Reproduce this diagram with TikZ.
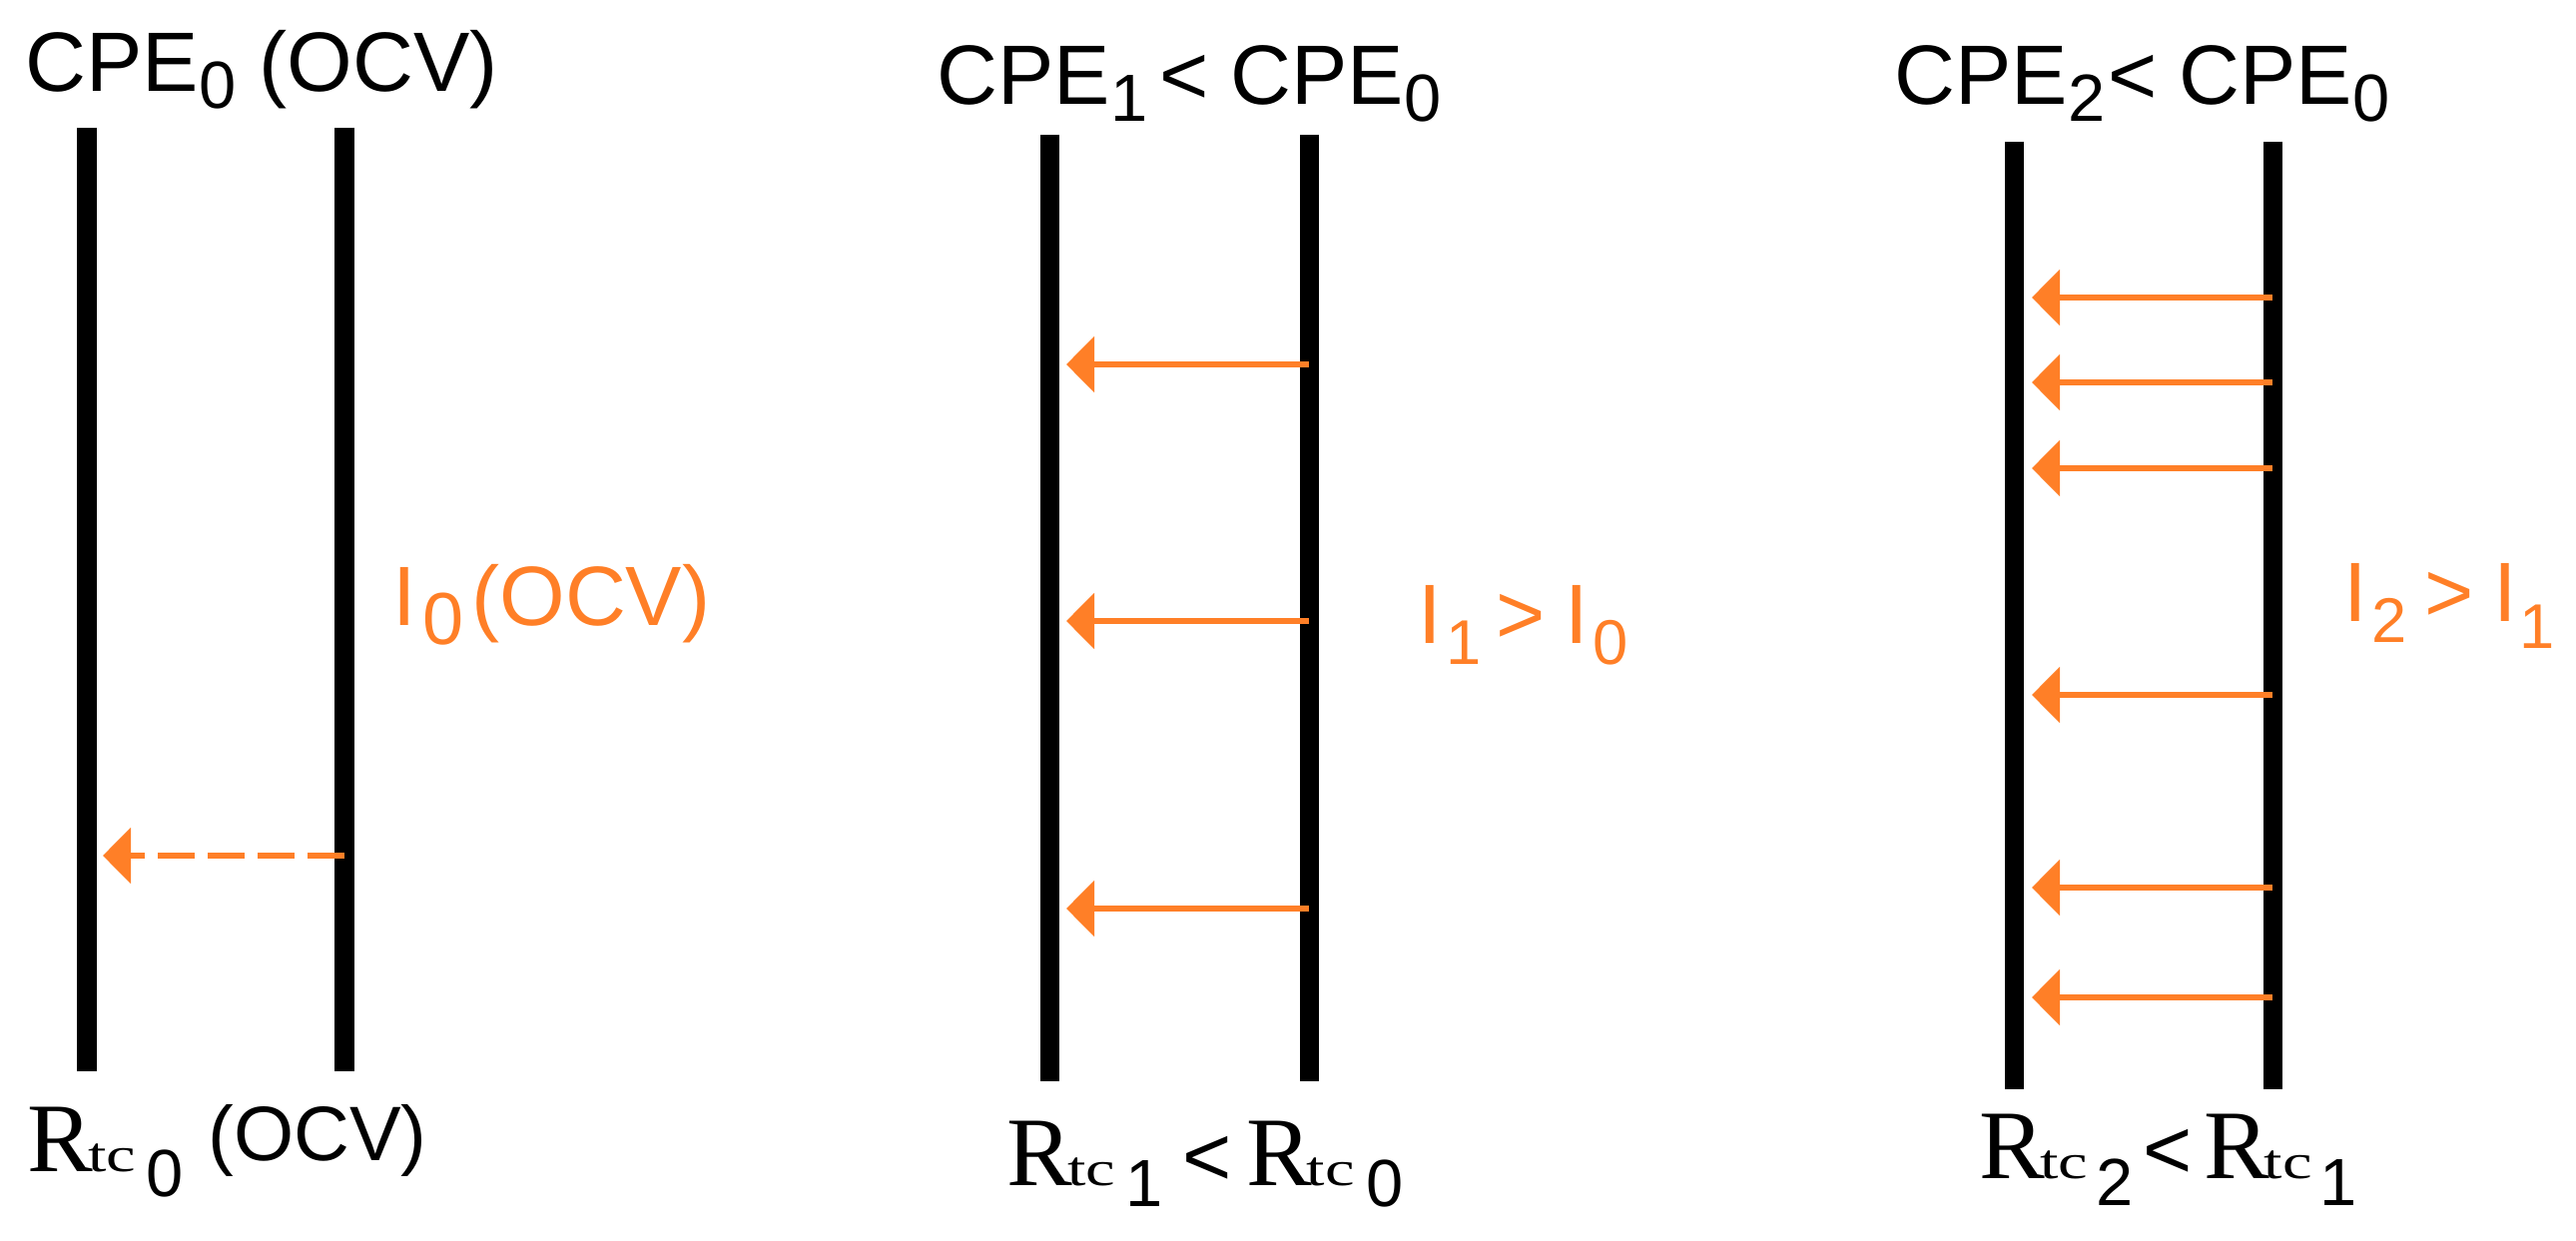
\documentclass[tikz,border=0pt]{standalone}
\usepackage{fontspec}
\setmainfont{Liberation Sans}
\newfontfamily\timesR{Liberation Serif}
\usetikzlibrary{arrows.meta}
\definecolor{orng}{RGB}{255,127,39}
\newcommand\fsz[1]{\fontsize{#1}{#1}\selectfont}
\newcommand\lsub[2][0.16cm]{\raisebox{-#1}{\fsz{19}#2}}
\newcommand\osub[2][0.18cm]{\raisebox{-#1}{\fsz{21}#2}}
\newcommand\psub[2][0.2cm]{\raisebox{-#1}{\fsz{18}#2}}
\newcommand\Rtc{{\timesR\fsz{28}R\kern-1.5pt\scalebox{1.35}[1]{\fsz{14}tc}}}
\begin{document}
\begin{tikzpicture}[x=0.01cm,y=-0.01cm]
\tikzset{
  wall/.style={line width=0.19cm},
  flow/.style={orng, line width=0.06cm, -{Triangle[length=0.28cm,width=0.55cm]}},
  lbl/.style={inner sep=0pt, anchor=base west, font=\fsz{24}},
  ilbl/.style={inner sep=0pt, anchor=base west, font=\fsz{24}, text=orng},
}
\useasboundingbox (0,0) rectangle (2580,1243);
% walls
\coordinate (a1t) at (87,128);   \coordinate (a1b) at (87,1073);
\coordinate (b1t) at (345,128);  \coordinate (b1b) at (345,1073);
\coordinate (a2t) at (1051,135); \coordinate (a2b) at (1051,1083);
\coordinate (b2t) at (1311,135); \coordinate (b2b) at (1311,1083);
\coordinate (a3t) at (2017,142); \coordinate (a3b) at (2017,1091);
\coordinate (b3t) at (2276,142); \coordinate (b3b) at (2276,1091);
\foreach \w in {a1,b1,a2,b2,a3,b3} \draw[wall] (\w t) -- (\w b);
% arrows panel 1
\coordinate (p1s) at (345,857); \coordinate (p1e) at (103,857);
\draw[flow, dash pattern=on 0.37cm off 0.13cm] (p1s) -- (p1e);
% arrows panel 2
\foreach \y [count=\i] in {365,622,910} {
  \coordinate (p2s\i) at (1311,\y); \coordinate (p2e\i) at (1068,\y);
  \draw[flow] (p2s\i) -- (p2e\i);
}
% arrows panel 3
\foreach \y [count=\i] in {298,383,469,696,889,999} {
  \coordinate (p3s\i) at (2276,\y); \coordinate (p3e\i) at (2035,\y);
  \draw[flow] (p3s\i) -- (p3e\i);
}
% top labels
\node[lbl] (t1) at (25,92) {CPE\lsub{0} (OCV)};
\node[lbl] (t2) at (938,105) {CPE\lsub{1}\hspace{0.12cm}<\hspace{0.22cm}CPE\lsub{0}};
\node[lbl] (t3) at (1897,105) {CPE\lsub{2}\hspace{0.03cm}<\hspace{0.22cm}CPE\lsub{0}};
% bottom labels
\node[lbl] (r1) at (27,1173) {\Rtc\hspace{0.1cm}\lsub[0.25cm]{0}\hspace{0.25cm}\raisebox{0.1cm}{\fsz{22}(OCV)}};
\node[lbl] (r2) at (1008,1187) {\Rtc\hspace{0.1cm}\lsub[0.21cm]{1}\hspace{0.2cm}<\hspace{0.15cm}\Rtc\hspace{0.12cm}\lsub[0.21cm]{0}};
\node[lbl] (r3) at (1982,1180) {\Rtc\hspace{0.08cm}\lsub[0.27cm]{2}\hspace{0.1cm}<\hspace{0.12cm}\Rtc\hspace{0.08cm}\lsub[0.27cm]{1}};
% current labels
\node[ilbl] (c1) at (393,627) {I\hspace{0.06cm}\osub{0}\hspace{0.08cm}(OCV)};
\node[ilbl] (c2) at (1420,645) {I\hspace{0.04cm}\psub{1}\hspace{0.15cm}>\hspace{0.2cm}I\hspace{0.04cm}\psub{0}};
\node[ilbl] (c3) at (2347,623) {I\hspace{0.04cm}\psub{2}\hspace{0.18cm}>\hspace{0.2cm}I\hspace{0.02cm}\psub[0.26cm]{1}};
\end{tikzpicture}
\end{document}
